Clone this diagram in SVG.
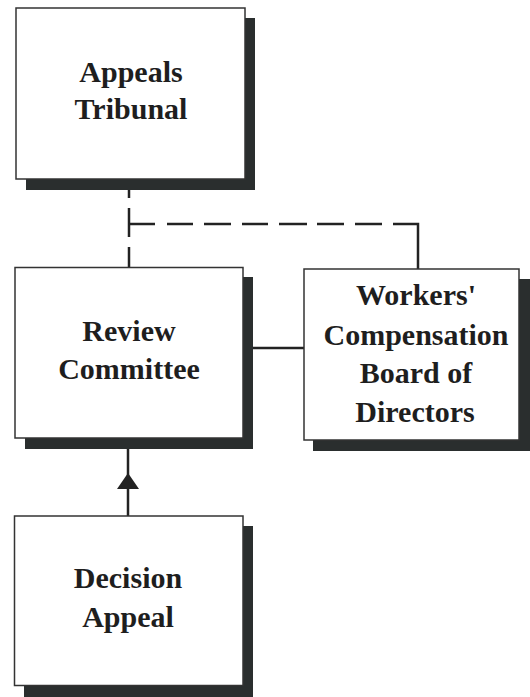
<svg xmlns="http://www.w3.org/2000/svg" width="530" height="697" viewBox="0 0 530 697">
<style>
.shadow{fill:#2a2e2e}
.box{fill:#ffffff;stroke:#333;stroke-width:1.5}
.lbl{font-family:"Liberation Serif","Times New Roman",serif;font-weight:bold;font-size:30px;fill:#1e1e1e;text-anchor:middle}
.ln{stroke:#222;stroke-width:2.5;fill:none}
.head{fill:#222}
</style>
<rect width="530" height="697" fill="#ffffff"/>
<g id="connectors">
<line class="ln" x1="129" y1="188" x2="129" y2="198"/>
<line class="ln" x1="129" y1="208" x2="129" y2="237"/>
<line class="ln" x1="129" y1="247" x2="129" y2="268"/>
<line class="ln" x1="129" y1="224" x2="155" y2="224"/>
<line class="ln" x1="167" y1="224" x2="193" y2="224"/>
<line class="ln" x1="204" y1="224" x2="231" y2="224"/>
<line class="ln" x1="242" y1="224" x2="268" y2="224"/>
<line class="ln" x1="279" y1="224" x2="307" y2="224"/>
<line class="ln" x1="317" y1="224" x2="344" y2="224"/>
<line class="ln" x1="355" y1="224" x2="382" y2="224"/>
<path class="ln" d="M393,224 H418 V269"/>
<line class="ln" x1="253" y1="348" x2="304" y2="348"/>
<line class="ln" x1="128" y1="449" x2="128" y2="516"/>
<path class="head" d="M128,473 L117,489 L139,489 Z"/>
</g>
<g id="appeals-tribunal">
<rect class="shadow" x="26" y="18" width="229" height="172"/>
<rect class="box" x="16" y="8" width="229" height="171"/>
<text class="lbl" x="131" y="82">Appeals</text>
<text class="lbl" x="131" y="119">Tribunal</text>
</g>
<g id="review-committee">
<rect class="shadow" x="25" y="277" width="228" height="172"/>
<rect class="box" x="15" y="267.5" width="228" height="170.5"/>
<text class="lbl" x="129" y="341">Review</text>
<text class="lbl" x="129" y="379">Committee</text>
</g>
<g id="workers-compensation">
<rect class="shadow" x="313" y="279" width="217" height="172"/>
<rect class="box" x="304" y="269" width="215" height="171"/>
<text class="lbl" x="416" y="305">Workers'</text>
<text class="lbl" x="416" y="345">Compensation</text>
<text class="lbl" x="416" y="383">Board of</text>
<text class="lbl" x="415" y="422">Directors</text>
</g>
<g id="decision-appeal">
<rect class="shadow" x="24" y="526" width="229" height="171"/>
<rect class="box" x="14.5" y="516" width="228.5" height="169.5"/>
<text class="lbl" x="128" y="588">Decision</text>
<text class="lbl" x="128" y="627">Appeal</text>
</g>
</svg>
